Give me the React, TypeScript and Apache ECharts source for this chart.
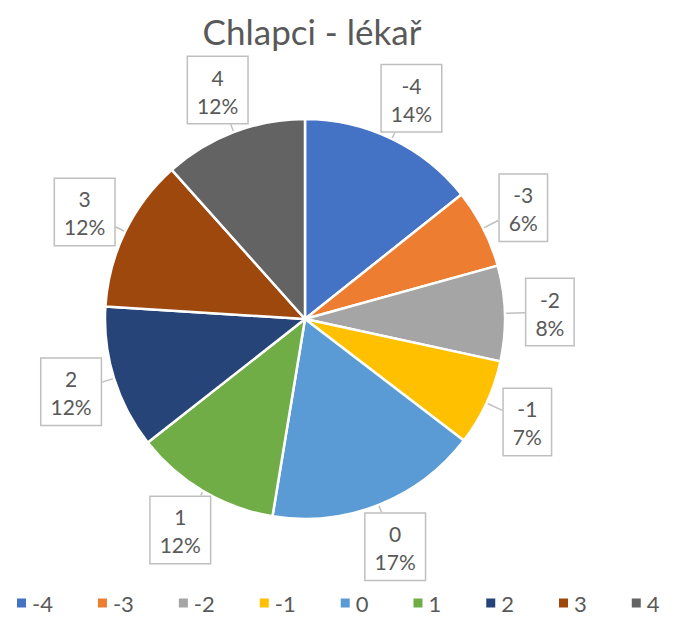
import React, { useEffect, useRef } from "react";
import * as echarts from "echarts";

const categories = ["-4", "-3", "-2", "-1", "0", "1", "2", "3", "4"];
const values = [14.3, 6.4, 7.7, 7.0, 17.2, 11.8, 11.6, 12.4, 11.6];
const colors = ["#4472C4", "#ED7D31", "#A5A5A5", "#FFC000", "#5B9BD5", "#70AD47", "#264478", "#9E480E", "#636363"];

const CX = 305;
const CY = 319;
const RADIUS = 200;
const LABEL_DIST = 245;

export default function App() {
  const ref = useRef<HTMLDivElement>(null);
  useEffect(() => {
    if (!ref.current) return;
    const chart = echarts.init(ref.current, null, { renderer: "svg" });
    const total = values.reduce((a, b) => a + b, 0);
    const midAngles: number[] = [];
    let acc = 0;
    values.forEach((v) => {
      midAngles.push(((acc + v / 2) / total) * Math.PI * 2);
      acc += v;
    });
    chart.setOption({
      animation: false,
      backgroundColor: "#ffffff",
      color: colors,
      title: {
        text: "Chlapci - lékař",
        left: 307,
        top: 8,
        textAlign: "center",
        textStyle: { fontFamily: "Lato", fontSize: 35, fontWeight: "normal", color: "#595959" },
      },
      legend: {
        data: categories,
        left: 10,
        top: 587,
        icon: "rect",
        itemWidth: 11,
        itemHeight: 11,
        itemGap: 43,
        textStyle: { fontFamily: "Lato", fontSize: 22, lineHeight: 22, color: "#595959" },
      },
      series: [
        {
          type: "pie",
          center: [CX, CY],
          radius: RADIUS,
          startAngle: 90,
          clockwise: true,
          data: categories.map((c, i) => ({ name: c, value: values[i] })),
          itemStyle: { borderColor: "#ffffff", borderWidth: 2.5 },
          label: {
            show: true,
            position: "outside",
            formatter: (p: any) => `{a|${p.name}}\n{a|${Math.round((p.value / total) * 100)}%}`,
            rich: {
              a: {
                fontFamily: "Lato",
                fontSize: 21,
                lineHeight: 28,
                color: "#595959",
                align: "center",
              },
            },
            backgroundColor: "#ffffff",
            borderColor: "#bfbfbf",
            borderWidth: 1.5,
            padding: [6, 9, 4, 9],
          },
          labelLine: {
            show: true,
            length: 22,
            length2: 2,
            lineStyle: { color: "#bfbfbf", width: 1.5 },
          },
          labelLayout: (params: any) => {
            const a = midAngles[params.dataIndex];
            const bx = CX + LABEL_DIST * Math.sin(a);
            const by = CY - LABEL_DIST * Math.cos(a);
            const px = CX + (RADIUS - 6) * Math.sin(a);
            const py = CY - (RADIUS - 6) * Math.cos(a);
            const hw = params.labelRect.width / 2;
            const hh = params.labelRect.height / 2;
            const dx = px - bx;
            const dy = py - by;
            const t = Math.min(hw / Math.max(Math.abs(dx), 1e-6), hh / Math.max(Math.abs(dy), 1e-6));
            return {
              x: bx,
              y: by,
              align: "center",
              verticalAlign: "middle",
              labelLinePoints: [
                [px, py],
                [bx + dx * t, by + dy * t],
                [bx + dx * t, by + dy * t],
              ],
            };
          },
          emphasis: { disabled: true },
        },
      ],
    });
    return () => chart.dispose();
  }, []);
  return <div ref={ref} style={{ position: "absolute", left: 0, top: 0, width: 683, height: 617 }} />;
}
